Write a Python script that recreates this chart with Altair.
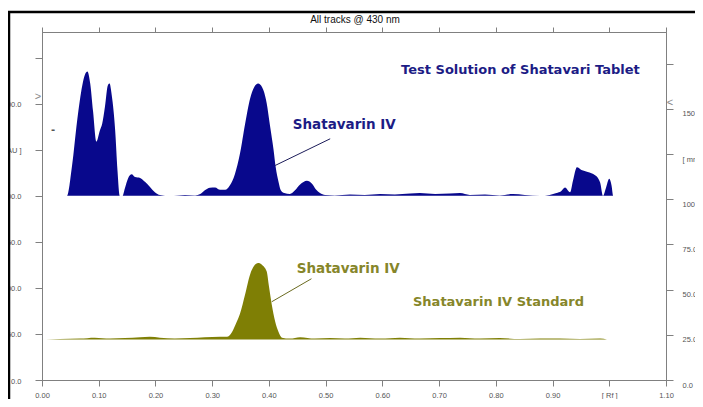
import altair as alt
import pandas as pd

# ---- data (Rf, signal in AU above each track's baseline)
blue_rf = [0.023, 0.044, 0.053, 0.062, 0.071, 0.076, 0.080, 0.085, 0.090, 0.096, 0.102, 0.106,
           0.111, 0.116, 0.119, 0.123, 0.129, 0.133, 0.137, 0.142, 0.146, 0.152, 0.158, 0.164,
           0.173, 0.182, 0.190, 0.199, 0.208, 0.226, 0.252, 0.270, 0.279, 0.287, 0.296, 0.305,
           0.314, 0.323, 0.331, 0.340, 0.349, 0.358, 0.367, 0.374, 0.381, 0.388, 0.396, 0.402,
           0.408, 0.412, 0.417, 0.421, 0.427, 0.437, 0.446, 0.455, 0.467, 0.476, 0.483, 0.490,
           0.499, 0.516, 0.543, 0.569, 0.596, 0.622, 0.649, 0.666, 0.693, 0.719, 0.737, 0.754,
           0.781, 0.807, 0.830, 0.851, 0.878, 0.895, 0.907, 0.915, 0.922, 0.931, 0.936, 0.943,
           0.951, 0.962, 0.975, 0.980, 0.984, 0.989, 0.994, 1.000, 1.004, 1.007, 1.015]
blue_au = [0, 0, 33, 82, 120, 132, 135, 122, 92, 59, 71, 78,
           97, 120, 122, 109, 71, 28, 0, 0, 8, 19.5, 23.5, 20.5,
           19.5, 15, 10, 4, 1, 0, 1, 0.5, 2, 6, 8.7, 9.2,
           6.7, 6.7, 11.3, 23.6, 46, 78, 106, 118, 122, 118, 101, 76,
           51, 31, 15, 6, 3, 2, 6, 12.3, 16.4, 13.3, 7, 3,
           1, 0.5, 1.5, 1, 2, 1.5, 2.5, 3, 2, 2.5, 3, 1,
           1.5, 0.5, 2, 1, 0, 1, 3, 5, 9.2, 4, 16.4, 31,
           28, 26, 22.5, 19.5, 14.3, 0, 8.2, 18.5, 11.3, 0, 0]

olive_rf = [0.007, 0.032, 0.067, 0.093, 0.120, 0.146, 0.173, 0.190, 0.208, 0.234, 0.261, 0.287,
            0.314, 0.326, 0.335, 0.342, 0.349, 0.358, 0.367, 0.374, 0.381, 0.388, 0.396, 0.400,
            0.405, 0.411, 0.417, 0.423, 0.437, 0.455, 0.481, 0.508, 0.534, 0.561, 0.596, 0.631,
            0.666, 0.702, 0.737, 0.772, 0.807, 0.843, 0.878, 0.913, 0.948, 0.984, 0.996]
olive_au = [0, 0.5, 1, 2, 1, 1.5, 2.5, 3, 2, 1, 1.5, 2.5,
            3, 3, 8.2, 17.4, 28, 49, 71, 80, 83, 81, 74, 58,
            38, 19.5, 8.2, 2, 1, 2.5, 1, 1.5, 1, 2, 1, 2,
            1, 1.5, 2, 1, 1.5, 0.5, 1, 1, 0.5, 1, 0]

blue_offset = 200    # AU baseline of the test-solution track
olive_offset = 44    # AU baseline of the standard track

x_ticks = [0.0, 0.1, 0.2, 0.3, 0.4, 0.5, 0.6, 0.7, 0.8, 0.9, 1.0, 1.1]
au_ticks = [0, 50, 100, 150, 200, 250, 300, 350]
mm_ticks = [0, 25, 50, 75, 100, 125, 150, 175]

label_text = ["Test Solution of Shatavari Tablet", "Shatavarin IV", "Shatavarin IV", "Shatavarin IV Standard", "-"]
label_rf = [0.633, 0.442, 0.449, 0.654, 0.016]
label_au = [337, 277, 121, 85, 272]
label_color = ["#1c1c85", "#1c1c85", "#86862a", "#86862a", "#555555"]
label_size = [13, 13.5, 13.5, 13, 10]

lead_rf = [0.411, 0.405]
lead_au = [233, 85]
lead_rf2 = [0.508, 0.475]
lead_au2 = [262, 110]
lead_color = ["#1c1c5a", "#6b6b20"]

NAVY = "#08088c"
OLIVE = "#7f7f05"
GRAY = "#808080"

blue_df = pd.DataFrame({"rf": blue_rf, "au": blue_au})
blue_df["top"] = blue_df["au"] + blue_offset
blue_df["base"] = blue_offset
olive_df = pd.DataFrame({"rf": olive_rf, "au": olive_au})
olive_df["top"] = olive_df["au"] + olive_offset
olive_df["base"] = olive_offset
lab_df = pd.DataFrame({"rf": label_rf, "au": label_au, "text": label_text,
                       "color": label_color, "size": label_size})
lead_df = pd.DataFrame({"rf": lead_rf, "au": lead_au, "rf2": lead_rf2, "au2": lead_au2, "color": lead_color})

xscale = alt.Scale(domain=[0, 1.1], nice=False, zero=False)
yscale = alt.Scale(domain=[0, 378], nice=False, zero=False)

x_bottom = alt.Axis(orient="bottom", values=x_ticks, title=None, grid=False,
                    labelExpr="abs(datum.value - 1) < 0.001 ? '[ Rf ]' : format(datum.value, '.2f')",
                    tickSize=6, labelPadding=5, labelFlush=False, labelOverlap=False,
                    labelFontSize=7.5, labelColor="#555555", labelFont="Liberation Sans",
                    domainColor=GRAY, tickColor=GRAY)
y_left = alt.Axis(orient="left", values=au_ticks, title=None, grid=False,
                  labelExpr="datum.value == 250 ? '[ AU ]' : datum.value == 350 ? '' : format(datum.value, '.1f')",
                  tickSize=7, labelPadding=14, labelOffset=1, labelFlush=False, labelOverlap=False,
                  labelFontSize=7.5, labelColor="#555555", labelFont="Liberation Sans",
                  domainColor=GRAY, tickColor=GRAY)

blue = alt.Chart(blue_df).mark_area(color=NAVY, interpolate="monotone").encode(
    x=alt.X("rf:Q", scale=xscale, axis=x_bottom),
    y=alt.Y("top:Q", scale=yscale, axis=y_left),
    y2="base:Q",
)
olive = alt.Chart(olive_df).mark_area(color=OLIVE, interpolate="monotone").encode(
    x=alt.X("rf:Q", scale=xscale),
    y=alt.Y("top:Q", scale=yscale),
    y2="base:Q",
)
leads = alt.Chart(lead_df).mark_rule(strokeWidth=1).encode(
    x=alt.X("rf:Q", scale=xscale), y=alt.Y("au:Q", scale=yscale),
    x2="rf2:Q", y2="au2:Q",
    color=alt.Color("color:N", scale=None),
)
labels = alt.Chart(lab_df).mark_text(align="left", baseline="middle", font="DejaVu Sans",
                                     fontWeight="bold").encode(
    x=alt.X("rf:Q", scale=xscale), y=alt.Y("au:Q", scale=yscale),
    text="text:N",
    color=alt.Color("color:N", scale=None),
    size=alt.Size("size:Q", scale=None),
)
title = alt.Chart(pd.DataFrame({"t": ["All tracks @ 430 nm"]})).mark_text(
    font="Liberation Sans", fontSize=10, color="#111111", baseline="middle", align="center"
).encode(x=alt.value(313), y=alt.value(-12), text="t:N")

# track-position chevrons drawn by the scanner software on both side axes
chev_left = alt.Chart(pd.DataFrame({"t": [">"]})).mark_text(
    font="Liberation Sans", fontSize=11, color="#888888", align="center", baseline="middle"
).encode(x=alt.value(-4), y=alt.value(65), text="t:N")
chev_right = alt.Chart(pd.DataFrame({"t": ["<"]})).mark_text(
    font="Liberation Sans", fontSize=11, color="#888888", align="center", baseline="middle"
).encode(x=alt.value(628), y=alt.value(71), text="t:N")

frame_left = alt.Chart(pd.DataFrame({"a": [0]})).mark_rule(color="black", strokeWidth=2.5).encode(
    x=alt.value(-33), y=alt.value(-21), y2=alt.value(400))
frame_top = alt.Chart(pd.DataFrame({"a": [0]})).mark_rule(color="black", strokeWidth=2.5).encode(
    x=alt.value(-34), x2=alt.value(700), y=alt.value(-20))

inner = alt.layer(blue, olive, leads, labels, title, chev_left, chev_right, frame_left, frame_top)

right = alt.Chart(pd.DataFrame({"rf": [0.0] * len(mm_ticks), "mm": mm_ticks})).mark_point(opacity=0).encode(
    x=alt.X("rf:Q", scale=xscale,
            axis=alt.Axis(orient="top", values=x_ticks, labels=False, title=None, grid=False,
                          tickSize=5, domainColor=GRAY, tickColor=GRAY)),
    y=alt.Y("mm:Q", scale=alt.Scale(domain=[0, 192.6], nice=False, zero=False),
            axis=alt.Axis(orient="right", values=mm_ticks, title=None, grid=False,
                          labelExpr="datum.value == 125 ? '[ mm ]' : datum.value == 175 ? '' : format(datum.value, '.1f')",
                          tickSize=7, labelPadding=9, labelOffset=5, labelFlush=False, labelOverlap=False,
                          labelFontSize=7.5, labelColor="#555555", labelFont="Liberation Sans",
                          labelAlign="left", domainColor=GRAY, tickColor=GRAY)),
)

chart = alt.layer(inner, right).resolve_scale(y="independent").resolve_axis(x="independent").properties(
    width=624, height=348, autosize="none",
    padding={"left": 34, "top": 24, "right": 29, "bottom": 19},
).configure_view(stroke=GRAY, strokeWidth=1)

chart.save("out.html", embed_options={"renderer": "svg", "actions": False})
